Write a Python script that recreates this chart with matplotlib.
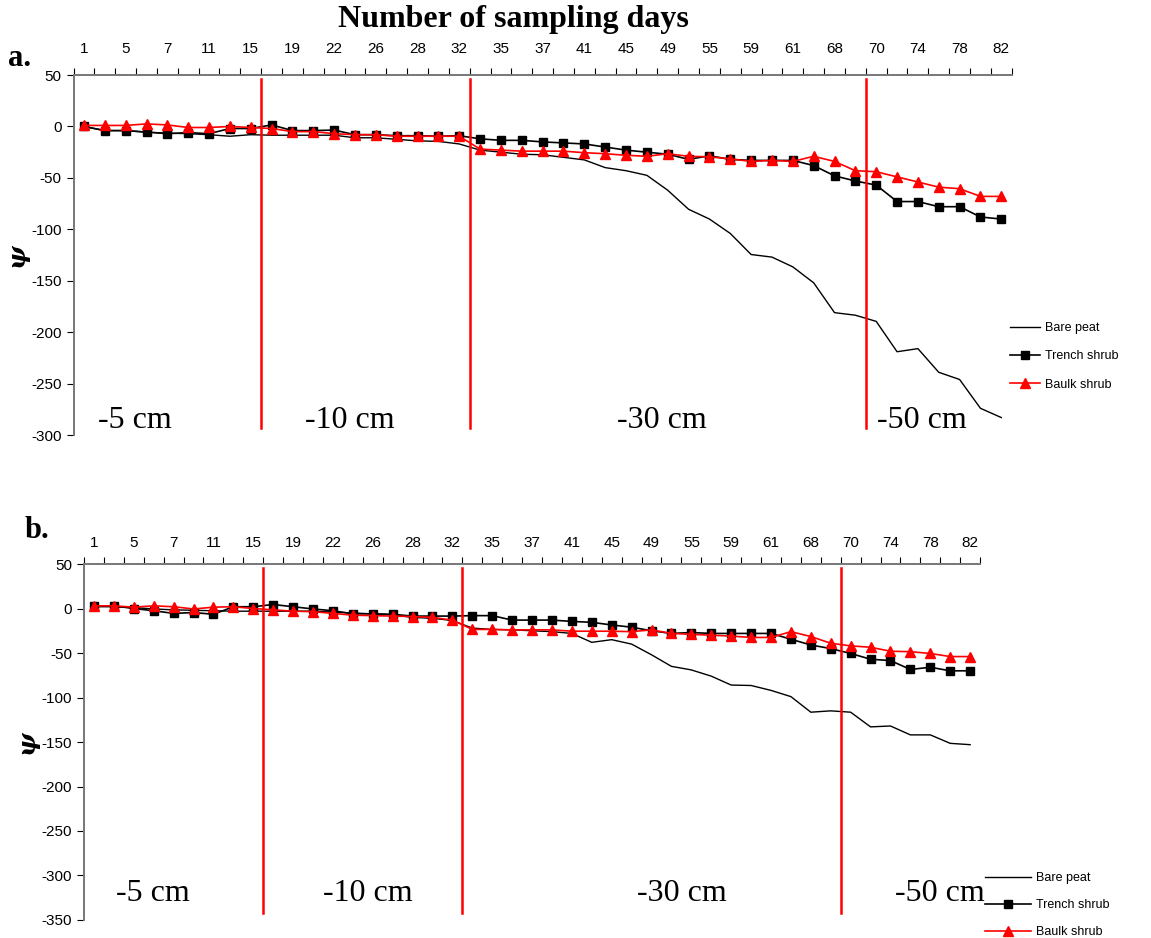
# Soil water potential at three depths: bare peat vs trench / baulk shrub
import matplotlib
matplotlib.use("Agg")
import matplotlib.pyplot as plt
import numpy as np

matplotlib.rcParams['font.family'] = 'Liberation Sans'
matplotlib.rcParams['axes.unicode_minus'] = False

# --- data (45 sampling occasions) ---
day_labels = ["1", "5", "7", "11", "15", "19", "22", "26", "28", "32", "35", "37",
              "41", "45", "49", "55", "59", "61", "68", "70", "74", "78", "82"]

a_bare = [0, -4, -4, -5.5, -6.5, -7, -8, -9.5, -8, -8.5, -8.5, -8.5, -8.5, -11, -11,
          -12.5, -14, -14.5, -17, -23, -25, -27, -27.5, -30, -32.5, -40, -43, -47.5, -62, -80.5,
          -90, -104, -124.5, -127, -136.5, -152, -181, -183.5, -189.5, -219, -216, -239, -246, -274, -283]
a_trench = [0, -4, -4, -5.5, -7, -6, -7, -2, -2, 1.5, -4, -4, -3.5, -8, -8,
            -9, -9, -9.5, -9, -12, -13.5, -13.5, -15, -16, -17, -20, -23, -25, -27, -32,
            -28.5, -32, -33, -33, -33, -38, -48, -53, -57, -73, -73, -78, -78, -88, -90]
a_baulk = [1, 1, 1, 2.5, 1.5, -1, -1, 0, -1, -2, -5, -5, -7, -8, -8,
           -9.5, -9.5, -9.5, -9.5, -22, -23, -24, -24, -24, -25.5, -26.5, -28, -29, -26.5, -29,
           -29.5, -31.5, -34, -33, -34, -29, -34, -43, -44, -49, -54, -59, -60.5, -68, -68]

b_bare = [2, 2, 1, -0.5, -1.5, -2, -2.5, -3, -3, -3, -3, -3, -4, -5, -6,
          -7, -10, -11, -13.5, -22, -23.5, -24, -25, -26, -28, -38, -35, -40, -52, -65,
          -69, -76, -86, -86.5, -92, -99, -116.5, -115, -116.5, -133, -132, -142, -142, -151.5, -153]
b_trench = [3, 3, 0, -2.5, -5.5, -4.5, -6.5, 2, 2, 4.5, 2, -0.5, -2.5, -6, -6,
            -6.5, -8.5, -8.5, -8.5, -8, -8, -13, -13, -13, -14.5, -15.5, -18.5, -21, -25, -28,
            -27, -28, -28, -28, -28, -34.5, -41, -45, -50.5, -57, -58.5, -68.5, -66, -70, -70]
b_baulk = [3, 3, 1.5, 3, 2, -0.5, 1.5, 2, 0, -1.5, -3, -3.5, -5.5, -7.5, -8,
           -8.5, -9, -10, -13, -23.5, -23.5, -24, -24, -24, -25.5, -25.5, -25.5, -26, -24, -28,
           -29, -30, -31, -32.5, -32.5, -26, -31.5, -39, -42, -43.5, -48, -48.5, -50.5, -54, -54]

depth_labels = ["-5 cm", "-10 cm", "-30 cm", "-50 cm"]
depth_breaks = [9.5, 19.5, 38.5]

x = np.arange(1, len(a_bare) + 1)

fig = plt.figure(figsize=(11.51, 9.38), dpi=100)
ax_a = fig.add_axes([0.0639, 0.5362, 0.8151, 0.3838])
ax_b = fig.add_axes([0.0730, 0.0192, 0.7785, 0.3795])


def draw_panel(ax, bare, trench, baulk, ylo, label_x, label_y, leg_anchor, hlen, lspace, xpad):
    ax.plot(x, bare, color='black', lw=1.0, label='Bare peat')
    ax.plot(x, trench, color='black', lw=1.2, marker='s', ms=5.8, label='Trench shrub')
    ax.plot(x, baulk, color='red', lw=1.2, marker='^', ms=6.8, label='Baulk shrub')
    for b in depth_breaks:
        ax.axvline(b, ymin=0.02, ymax=0.99, color='red', lw=1.8)
    for lx, lab in zip(label_x, depth_labels):
        ax.text(lx, label_y, lab, family='Liberation Serif', fontsize=23,
                ha='center', va='center')

    ax.set_xlim(0.5, len(x) + 0.5)
    ax.set_ylim(ylo, 50)
    ax.set_yticks(np.arange(ylo, 51, 50))
    ax.tick_params(axis='y', labelsize=11, length=5, direction='out')

    # categories on top: ticks at boundaries, labels on every other day
    ax.xaxis.tick_top()
    ax.set_xticks(np.arange(0.5, len(x) + 1, 1))
    ax.set_xticklabels([])
    ax.set_xticks(np.arange(1, len(x) + 1, 2), minor=True)
    ax.set_xticklabels(day_labels, minor=True)
    ax.tick_params(axis='x', which='major', length=5, direction='out')
    ax.tick_params(axis='x', which='minor', length=0, pad=xpad, labelsize=11)

    for s in ['right', 'bottom']:
        ax.spines[s].set_visible(False)
    for s in ['left', 'top']:
        ax.spines[s].set_color('#777777')
        ax.spines[s].set_linewidth(1.4)

    ax.set_ylabel('ψ', family='DejaVu Serif', fontsize=18, weight='bold',
                  style='italic', labelpad=2)

    ax.legend(loc='upper left', bbox_to_anchor=leg_anchor, bbox_transform=fig.transFigure,
              frameon=False, fontsize=9, handlelength=hlen, handletextpad=0.4,
              labelspacing=lspace, borderpad=0, borderaxespad=0)


draw_panel(ax_a, a_bare, a_trench, a_baulk, -300, [3.45, 13.76, 28.7, 41.2], -286,
           (1010 / 1151, 1 - 322 / 938), 2.4, 1.3, 14)
draw_panel(ax_b, b_bare, b_trench, b_baulk, -350, [3.96, 14.76, 30.5, 43.5], -320,
           (985 / 1151, 1 - 872 / 938), 3.7, 1.2, 10)

fig.text(513 / 1151, 1 - 20 / 938, 'Number of sampling days', family='Liberation Serif',
         fontsize=23, weight='bold', ha='center', va='center')
fig.text(8 / 1151, 1 - 58 / 938, 'a.', family='Liberation Serif', fontsize=22,
         weight='bold', ha='left', va='center')
fig.text(25 / 1151, 1 - 531 / 938, 'b.', family='Liberation Serif', fontsize=22,
         weight='bold', ha='left', va='center')

fig.savefig('out.png', dpi=100)
